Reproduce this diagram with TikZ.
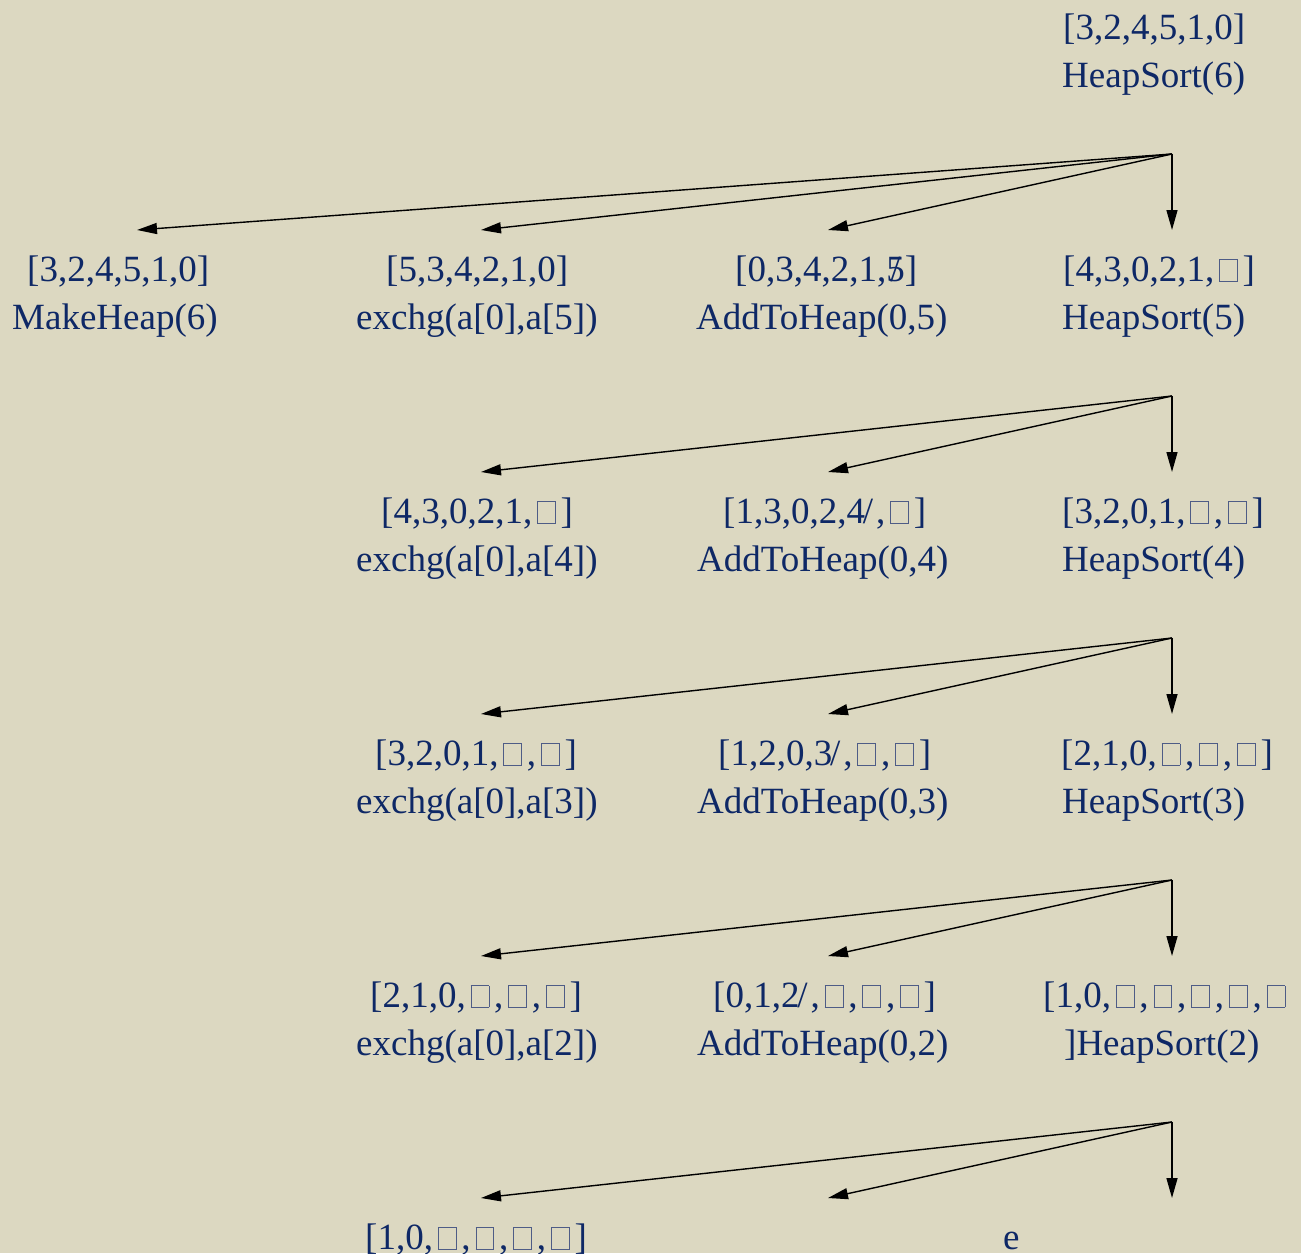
\documentclass[tikz,border=0pt]{standalone}
\usepackage{fontspec}
\setmainfont{Liberation Serif}
\usetikzlibrary{arrows.meta}
\definecolor{paper}{RGB}{220,216,193}
\definecolor{ink}{RGB}{14,40,102}
\definecolor{cellc}{RGB}{78,92,134}
% empty array slot drawn as a thin square
\newcommand\cellbox{\hspace{0.13em}{\color{cellc}\setlength\fboxsep{0pt}\setlength\fboxrule{0.9pt}\fbox{\rule{0pt}{0.56em}\rule{0.46em}{0pt}}}\hspace{0.13em}}
% struck digit (slash over the digit) and trailing slash
\newcommand\strk[1]{#1\llap{/\kern0.11em}}
\newcommand\tslash[1]{#1\rlap{\kern-0.06em/}\kern0.3em}
\begin{document}
\begin{tikzpicture}[x=1pt,y=-1pt,
  txt/.style={anchor=base west,inner sep=0pt,text=ink,font=\fontsize{37}{44}\selectfont},
  link/.style={draw=black,line width=1.4pt,-{Triangle[length=20pt,width=11pt]}}]
\fill[paper] (0,0) rectangle (1301,1253);
\useasboundingbox (0,0) rectangle (1301,1253);

% ---- labels ----
\node[txt] (r0a) at (1063,39) {[3,2,4,5,1,0]};
\node[txt] (r0b) at (1062,87) {HeapSort(6)};

\node[txt] (r1a) at (27,281) {[3,2,4,5,1,0]};
\node[txt] (r1b) at (12,329) {MakeHeap(6)};
\node[txt] (r1c) at (386,281) {[5,3,4,2,1,0]};
\node[txt] (r1d) at (356,329) {exchg(a[0],a[5])};
\node[txt] (r1e) at (735,281) {[0,3,4,2,1,\strk{5}]};
\node[txt] (r1f) at (696,329) {AddToHeap(0,5)};
\node[txt] (r1g) at (1063,281) {[4,3,0,2,1,\cellbox]};
\node[txt] (r1h) at (1062,329) {HeapSort(5)};

\node[txt] (r2a) at (381,523) {[4,3,0,2,1,\cellbox]};
\node[txt] (r2b) at (356,571) {exchg(a[0],a[4])};
\node[txt] (r2c) at (723,523) {[1,3,0,2,\tslash{4},\cellbox]};
\node[txt] (r2d) at (697,571) {AddToHeap(0,4)};
\node[txt] (r2e) at (1062,523) {[3,2,0,1,\cellbox,\cellbox]};
\node[txt] (r2f) at (1062,571) {HeapSort(4)};

\node[txt] (r3a) at (375,765) {[3,2,0,1,\cellbox,\cellbox]};
\node[txt] (r3b) at (356,813) {exchg(a[0],a[3])};
\node[txt] (r3c) at (718,765) {[1,2,0,\tslash{3},\cellbox,\cellbox]};
\node[txt] (r3d) at (697,813) {AddToHeap(0,3)};
\node[txt] (r3e) at (1061,765) {[2,1,0,\cellbox,\cellbox,\cellbox]};
\node[txt] (r3f) at (1062,813) {HeapSort(3)};

\node[txt] (r4a) at (370,1007) {[2,1,0,\cellbox,\cellbox,\cellbox]};
\node[txt] (r4b) at (356,1055) {exchg(a[0],a[2])};
\node[txt] (r4c) at (713,1007) {[0,1,\tslash{2},\cellbox,\cellbox,\cellbox]};
\node[txt] (r4d) at (697,1055) {AddToHeap(0,2)};
\node[txt] (r4e) at (1043,1007) {[1,0,\cellbox,\cellbox,\cellbox,\cellbox,\cellbox};
\node[txt] (r4f) at (1064,1055) {]HeapSort(2)};

\node[txt] (r5a) at (365,1249) {[1,0,\cellbox,\cellbox,\cellbox,\cellbox]};
\node[txt] (r5b) at (1003,1249) {e};

% ---- branching points and arrow ends ----
\coordinate (h0) at (1172,154);
\coordinate (t0a) at (137,230);
\coordinate (t0b) at (481,230);
\coordinate (t0c) at (828,230);
\coordinate (t0d) at (1172,230);
\draw[link] (h0) -- (t0a);
\draw[link] (h0) -- (t0b);
\draw[link] (h0) -- (t0c);
\draw[link] (h0) -- (t0d);

\foreach \k/\y in {1/396,2/638,3/880,4/1122}{
  \coordinate (h\k) at (1172,\y);
  \coordinate (t\k b) at (481,\y+76);
  \coordinate (t\k c) at (828,\y+76);
  \coordinate (t\k d) at (1172,\y+76);
  \draw[link] (h\k) -- (t\k b);
  \draw[link] (h\k) -- (t\k c);
  \draw[link] (h\k) -- (t\k d);
}
\end{tikzpicture}
\end{document}
